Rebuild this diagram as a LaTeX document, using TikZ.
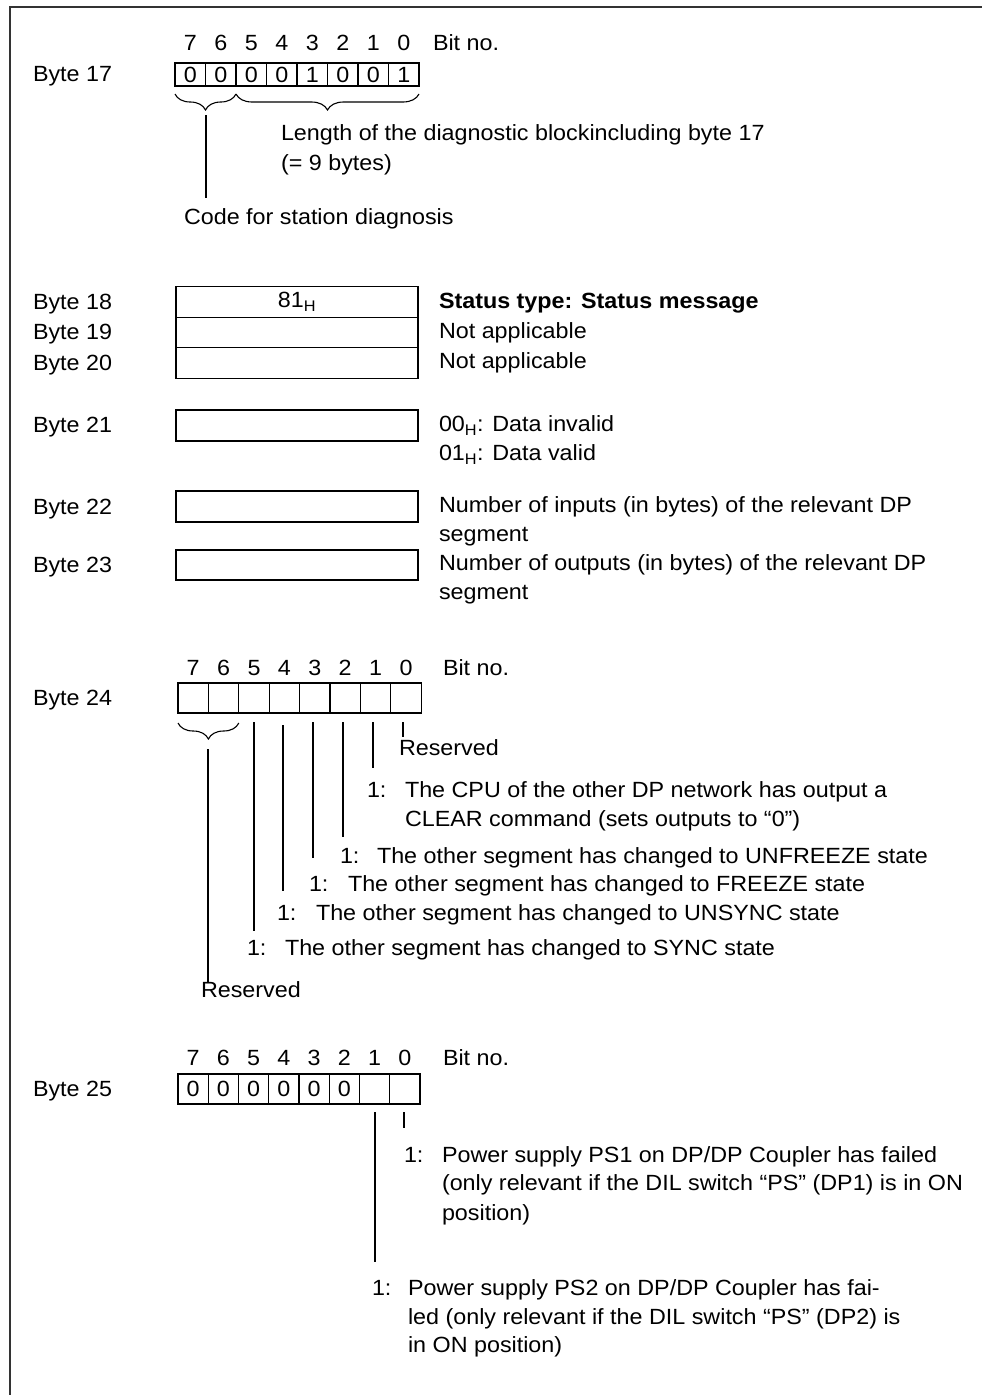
\documentclass[tikz,border=0pt]{standalone}
\usepackage{fontspec}
\setmainfont{Liberation Sans}[FakeStretch=1.06]
\usetikzlibrary{decorations.pathreplacing}
\begin{document}
\begin{tikzpicture}[x=1pt,y=-1pt,
  every node/.style={inner sep=0pt, outer sep=0pt},
  txt/.style={anchor=base west, yshift=-1.6pt, font=\fontsize{22}{29}\selectfont},
  num/.style={anchor=base, yshift=-1.6pt, font=\fontsize{22}{29}\selectfont},
  wide/.style={draw, line width=1.2pt, minimum width=242pt, minimum height=30.5pt, font=\fontsize{22}{24}\selectfont},
  conn/.style={line width=1.1pt},
  brc/.style={decorate, decoration={brace, mirror, amplitude=16pt}, line width=1.1pt},
  frameline/.style={line width=1.5pt, draw=black!80}]
\useasboundingbox (0,0) rectangle (982,1395);
\draw[frameline] (982,7) -- (10,7) -- (10,1395);

% ---------------- Byte 17
\node[txt] (l17) at (33,80.3) {Byte 17};
\foreach \i/\v [count=\k from 0] in {7/0,6/0,5/0,4/0,3/1,2/0,1/0,0/1} {
  \node[draw, line width=1.2pt, minimum width=30.5pt, minimum height=23pt,
        font=\fontsize{22}{24}\selectfont] (a\i) at (190.25+30.5*\k,74.5) {\v};
  \node[num] (an\i) at (190.25+30.5*\k,49.3) {\i};
}
\node[txt] (bn17) at (433,49.3) {Bit no.};
\draw[brc] ([yshift=-8pt]a7.south west) -- ([yshift=-8pt]a6.south east);
\draw[brc] ([yshift=-8pt]a5.south west) -- ([yshift=-8pt]a0.south east);
\node[txt] (len1) at (281,139.3) {Length of the diagnostic blockincluding byte 17};
\node[txt] (len2) at (281,169.3) {(= 9 bytes)};
\node[txt] (code) at (184,223.3) {Code for station diagnosis};
\coordinate (t17a) at (206,115);
\coordinate (t17b) at (206,198);
\draw[conn] (t17a) -- (t17b);

% ---------------- Bytes 18 - 23
\node[wide] (b18) at (297,302) {81\textsubscript{H}};
\node[wide] (b19) at (297,332.5) {};
\node[wide] (b20) at (297,363) {};
\node[txt] (l18) at (33,308.3) {Byte 18};
\node[txt] (l19) at (33,338.3) {Byte 19};
\node[txt] (l20) at (33,369.3) {Byte 20};
\node[txt] (r18) at (439,307.3) {\bfseries Status type: Status message};
\node[txt] (r19) at (439,337.3) {Not applicable};
\node[txt] (r20) at (439,367.3) {Not applicable};

\node[wide, minimum height=31pt] (b21) at (297,425.5) {};
\node[txt] (l21) at (33,431.3) {Byte 21};
\node[txt] (r21a) at (439,430.3) {00\textsubscript{H}: Data invalid};
\node[txt] (r21b) at (439,459.3) {01\textsubscript{H}: Data valid};

\node[wide, minimum height=31pt] (b22) at (297,506.5) {};
\node[txt] (l22) at (33,513.3) {Byte 22};
\node[txt] (r22a) at (439,511.3) {Number of inputs (in bytes) of the relevant DP};
\node[txt] (r22b) at (439,540.3) {segment};

\node[wide, minimum height=30pt] (b23) at (297,565) {};
\node[txt] (l23) at (33,571.3) {Byte 23};
\node[txt] (r23a) at (439,569.3) {Number of outputs (in bytes) of the relevant DP};
\node[txt] (r23b) at (439,598.3) {segment};

% ---------------- Byte 24
\node[txt] (l24) at (33,704.3) {Byte 24};
\foreach \i [count=\k from 0] in {7,6,5,4,3,2,1,0} {
  \node[draw, line width=1.2pt, minimum width=30.4pt, minimum height=30pt] (c\i) at (193.2+30.4*\k,698) {};
  \node[num] (cn\i) at (193.2+30.4*\k,674.3) {\i};
}
\node[txt] (bn24) at (443,674.3) {Bit no.};
\draw[brc] ([yshift=-10pt]c7.south west) -- ([yshift=-10pt]c6.south east);

\node[txt] (res0) at (399,754.3) {Reserved};
\node[txt] (n1) at (367,796.3) {1:};
\node[txt] (t1a) at (405,796.3) {The CPU of the other DP network has output a};
\node[txt] (t1b) at (405,825.3) {CLEAR command (sets outputs to “0”)};
\node[txt] (n2) at (340,862.3) {1:};
\node[txt] (t2) at (377,862.3) {The other segment has changed to UNFREEZE state};
\node[txt] (n3) at (309,890.3) {1:};
\node[txt] (t3) at (348,890.3) {The other segment has changed to FREEZE state};
\node[txt] (n4) at (277,919.3) {1:};
\node[txt] (t4) at (316,919.3) {The other segment has changed to UNSYNC state};
\node[txt] (n5) at (247,954.3) {1:};
\node[txt] (t5) at (285,954.3) {The other segment has changed to SYNC state};
\node[txt] (res76) at (201,996.3) {Reserved};

\coordinate (s0) at (403,722); \coordinate (e0) at (403,737);
\coordinate (s1) at (373,722); \coordinate (e1) at (373,768);
\coordinate (s2) at (343,722); \coordinate (e2) at (343,837);
\coordinate (s3) at (313,722); \coordinate (e3) at (313,858);
\coordinate (s4) at (283,725); \coordinate (e4) at (283,891);
\coordinate (s5) at (254,722); \coordinate (e5) at (254,931);
\coordinate (s76) at (208,749); \coordinate (e76) at (208,982);
\foreach \j in {0,1,2,3,4,5,76} { \draw[conn] (s\j) -- (e\j); }

% ---------------- Byte 25
\node[txt] (l25) at (33,1095.3) {Byte 25};
\foreach \i/\v [count=\k from 0] in {7/0,6/0,5/0,4/0,3/0,2/0,1/{},0/{}} {
  \node[draw, line width=1.2pt, minimum width=30.25pt, minimum height=30pt,
        font=\fontsize{22}{24}\selectfont] (d\i) at (193.1+30.25*\k,1089) {\v};
  \node[num] (dn\i) at (193.1+30.25*\k,1064.3) {\i};
}
\node[txt] (bn25) at (443,1064.3) {Bit no.};
\coordinate (u0) at (404,1112); \coordinate (v0) at (404,1128);
\coordinate (u1) at (375,1112); \coordinate (v1) at (375,1262);
\draw[conn] (u0) -- (v0);
\draw[conn] (u1) -- (v1);
\node[txt] (p1n) at (404,1161.3) {1:};
\node[txt] (p1a) at (442,1161.3) {Power supply PS1 on DP/DP Coupler has failed};
\node[txt] (p1b) at (442,1189.3) {(only relevant if the DIL switch “PS” (DP1) is in ON};
\node[txt] (p1c) at (442,1219.3) {position)};
\node[txt] (p2n) at (372,1294.3) {1:};
\node[txt] (p2a) at (408,1294.3) {Power supply PS2 on DP/DP Coupler has fai-};
\node[txt] (p2b) at (408,1323.3) {led (only relevant if the DIL switch “PS” (DP2) is};
\node[txt] (p2c) at (408,1351.3) {in ON position)};
\end{tikzpicture}
\end{document}
